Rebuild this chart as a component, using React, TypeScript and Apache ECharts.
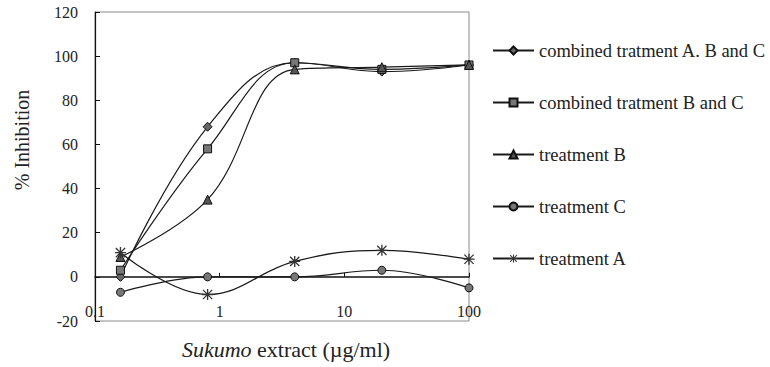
import React, { useEffect, useRef } from "react";
import * as echarts from "echarts";

const concentrations = [0.16, 0.8, 4, 20, 100];
const seriesNames = [
  "combined tratment A. B and C",
  "combined tratment B and C",
  "treatment B",
  "treatment C",
  "treatment A",
];
const comboABC = [0, 68, 97, 93, 96];
const comboBC = [3, 58, 97, 94, 96];
const treatB = [9, 35, 94, 95, 96];
const treatC = [-7, 0, 0, 3, -5];
const treatA = [11, -8, 7, 12, 8];
const xTickLabels = ["0.1", "1", "10", "100"];

const ASTERISK =
  "path://M4.4 0 L5.6 0 L5.6 10 L4.4 10 Z M0 4.4 L10 4.4 L10 5.6 L0 5.6 Z M0.4 1.2 L1.2 0.4 L9.6 8.8 L8.8 9.6 Z M8.8 0.4 L9.6 1.2 L1.2 9.6 L0.4 8.8 Z";

const FONT = "'Liberation Serif', 'Times New Roman', serif";

export default function App() {
  const ref = useRef<HTMLDivElement>(null);
  useEffect(() => {
    if (!ref.current) return;
    const chart = echarts.init(ref.current, undefined, { renderer: "svg" });
    const values = [comboABC, comboBC, treatB, treatC, treatA];
    const symbols = ["diamond", "rect", "triangle", "circle", ASTERISK];
    const sizes = [9, 8, 9, 8, 11];
    const fills = ["#666", "#777", "#555", "#777", "#333"];
    const series: any[] = values.map((vals, i) => ({
      name: seriesNames[i],
      type: "line",
      smooth: 0.4,
      data: vals.map((v, j) => [concentrations[j], v]),
      symbol: symbols[i],
      symbolSize: sizes[i],
      showAllSymbol: true,
      lineStyle: { color: "#1a1a1a", width: 1.2 },
      itemStyle: {
        color: fills[i],
        borderColor: i === 4 ? "#333" : "#111",
        borderWidth: i === 4 ? 0 : 1,
      },
      z: 3,
    }));

    chart.setOption({
      animation: false,
      backgroundColor: "#fff",
      grid: {
        left: 95,
        top: 12,
        right: 301,
        bottom: 46,
        show: true,
        borderColor: "#8a8a8a",
        borderWidth: 1,
      },
      legend: {
        orient: "vertical",
        left: 492,
        top: 41,
        padding: 0,
        itemWidth: 41,
        itemHeight: 10,
        itemGap: 33,
        textStyle: { fontFamily: FONT, fontSize: 18.5, color: "#222" },
        data: seriesNames,
      },
      xAxis: {
        type: "log",
        logBase: 10,
        min: 0.1,
        max: 100,
        axisLine: { show: true, onZero: true, lineStyle: { color: "#111", width: 1.5 } },
        axisTick: { show: true, inside: true, length: 4, lineStyle: { color: "#111" } },
        minorTick: { show: false },
        splitLine: { show: false },
        axisLabel: {
          inside: true,
          margin: 2,
          fontFamily: FONT,
          fontSize: 16,
          color: "#222",
          formatter: (v: number) => {
            const idx = Math.round(Math.log10(v)) + 1;
            return xTickLabels[idx] ?? String(v);
          },
        },
      },
      yAxis: {
        type: "value",
        min: -20,
        max: 120,
        interval: 20,
        axisLine: { show: true, onZero: false, lineStyle: { color: "#111", width: 1.2 } },
        axisTick: { show: true, inside: true, length: 5, lineStyle: { color: "#111" } },
        splitLine: { show: false },
        axisLabel: { margin: 17, fontFamily: FONT, fontSize: 16, color: "#222" },
      },
      graphic: [
        {
          type: "text",
          x: 22,
          y: 140,
          rotation: Math.PI / 2,
          style: {
            text: "% Inhibition",
            fontFamily: FONT,
            fontSize: 20,
            fill: "#222",
            align: "center",
            verticalAlign: "middle",
          },
        },
        {
          type: "text",
          x: 286,
          y: 349,
          style: {
            text: "{i|Sukumo} extract (µg/ml)",
            fontFamily: FONT,
            fontSize: 22,
            fill: "#222",
            align: "center",
            verticalAlign: "middle",
            rich: {
              i: { fontFamily: FONT, fontSize: 22, fontStyle: "italic", fill: "#222" },
            },
          },
        },
      ],
      series,
    });
    return () => chart.dispose();
  }, []);
  return (
    <div
      ref={ref}
      style={{ position: "absolute", left: 0, top: 0, width: 770, height: 367 }}
    />
  );
}
